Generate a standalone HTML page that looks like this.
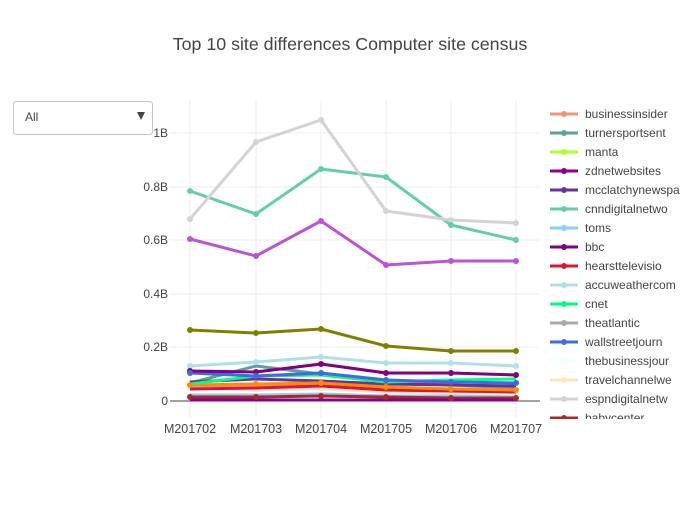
<!DOCTYPE html>
<html><head><meta charset="utf-8"><style>
body{margin:0;background:#fff;font-family:"Liberation Sans","DejaVu Sans",sans-serif}
</style></head><body>
<svg width="700" height="500" xmlns="http://www.w3.org/2000/svg" font-family="Liberation Sans, DejaVu Sans, sans-serif">
<rect width="700" height="500" fill="#fff"/>
<text x="350" y="50" text-anchor="middle" font-size="17.8" fill="#444">Top 10 site differences Computer site census</text>
<g stroke="#eee" stroke-width="1">
<line x1="190" y1="100" x2="190" y2="418"/><line x1="256" y1="100" x2="256" y2="418"/><line x1="321" y1="100" x2="321" y2="418"/><line x1="386" y1="100" x2="386" y2="418"/><line x1="451" y1="100" x2="451" y2="418"/><line x1="516" y1="100" x2="516" y2="418"/>
<line x1="170" y1="133" x2="540" y2="133"/><line x1="170" y1="187" x2="540" y2="187"/><line x1="170" y1="240" x2="540" y2="240"/><line x1="170" y1="294" x2="540" y2="294"/><line x1="170" y1="347" x2="540" y2="347"/>
</g>
<line x1="170" y1="401" x2="540" y2="401" stroke="#444" stroke-width="1"/>
<g font-size="12" fill="#444" text-anchor="end">
<text x="168" y="137">1B</text><text x="168" y="191">0.8B</text><text x="168" y="244">0.6B</text><text x="168" y="298">0.4B</text><text x="168" y="351">0.2B</text><text x="168" y="405">0</text>
</g>
<g font-size="12.5" fill="#444" text-anchor="middle">
<text x="190" y="433">M201702</text><text x="256" y="433">M201703</text><text x="321" y="433">M201704</text><text x="386" y="433">M201705</text><text x="451" y="433">M201706</text><text x="516" y="433">M201707</text>
</g>
<g fill="none" stroke-width="3" stroke-linejoin="round">
<polyline stroke="#ffe4c4" points="190,388 256,390 321,389 386,392 451,393 516,393"/>
<polyline stroke="#87cefa" points="190,395 256,395 321,394 386,396 451,396 516,397"/>
<polyline stroke="#5f9ea0" points="190,383 256,366 321,374 386,382 451,385 516,388"/>
<polyline stroke="#663399" points="190,382 256,379 321,381 386,384 451,385 516,386"/>
<polyline stroke="#e9967a" points="190,386 256,385 321,384 386,388 451,389 516,390"/>
<polyline stroke="#dc143c" points="190,389 256,388 321,386 386,390 451,391 516,392"/>
<polyline stroke="#ff8c00" points="190,385 256,384 321,383 386,387 451,389 516,390"/>
<polyline stroke="#00ff7f" points="190,384 256,376 321,375 386,382 451,380 516,379"/>
<polyline stroke="#4169e1" points="190,373 256,376 321,373 386,380 451,382 516,383"/>
<polyline stroke="#800080" points="190,371 256,372 321,364 386,373 451,373 516,375"/>
<polyline stroke="#b0e0e6" points="190,366 256,362 321,357 386,363 451,363 516,366"/>
<polyline stroke="#808000" points="190,330 256,333 321,329 386,346 451,351 516,351"/>
<polyline stroke="#ba55d3" points="190,239 256,256 321,221 386,265 451,261 516,261"/>
<polyline stroke="#66cdaa" points="190,191 256,214 321,169 386,177 451,225 516,240"/>
<polyline stroke="#d3d3d3" points="190,219 256,142 321,120 386,211 451,220 516,223"/>
<polyline stroke="#a52a2a" points="190,397 256,397 321,396 386,397 451,398 516,398"/>
<polyline stroke="#8b008b" points="190,400 256,400 321,400 386,400 451,400 516,400"/>
</g>
<g>
<g fill="#d3d3d3"><circle cx="190" cy="219" r="3"/><circle cx="256" cy="142" r="3"/><circle cx="321" cy="120" r="3"/><circle cx="386" cy="211" r="3"/><circle cx="451" cy="220" r="3"/><circle cx="516" cy="223" r="3"/></g>
<g fill="#66cdaa"><circle cx="190" cy="191" r="3"/><circle cx="256" cy="214" r="3"/><circle cx="321" cy="169" r="3"/><circle cx="386" cy="177" r="3"/><circle cx="451" cy="225" r="3"/><circle cx="516" cy="240" r="3"/></g>
<g fill="#ba55d3"><circle cx="190" cy="239" r="3"/><circle cx="256" cy="256" r="3"/><circle cx="321" cy="221" r="3"/><circle cx="386" cy="265" r="3"/><circle cx="451" cy="261" r="3"/><circle cx="516" cy="261" r="3"/></g>
<g fill="#808000"><circle cx="190" cy="330" r="3"/><circle cx="256" cy="333" r="3"/><circle cx="321" cy="329" r="3"/><circle cx="386" cy="346" r="3"/><circle cx="451" cy="351" r="3"/><circle cx="516" cy="351" r="3"/></g>
<g fill="#b0e0e6"><circle cx="190" cy="366" r="3"/><circle cx="256" cy="362" r="3"/><circle cx="321" cy="357" r="3"/><circle cx="386" cy="363" r="3"/><circle cx="451" cy="363" r="3"/><circle cx="516" cy="366" r="3"/></g>
<g fill="#800080"><circle cx="190" cy="371" r="3"/><circle cx="256" cy="372" r="3"/><circle cx="321" cy="364" r="3"/><circle cx="386" cy="373" r="3"/><circle cx="451" cy="373" r="3"/><circle cx="516" cy="375" r="3"/></g>
<g fill="#4169e1"><circle cx="190" cy="373" r="3"/><circle cx="256" cy="376" r="3"/><circle cx="321" cy="373" r="3"/><circle cx="386" cy="380" r="3"/><circle cx="451" cy="382" r="3"/><circle cx="516" cy="383" r="3"/></g>
<g fill="#ff8c00"><circle cx="190" cy="385" r="3"/><circle cx="256" cy="384" r="3"/><circle cx="321" cy="383" r="3"/><circle cx="386" cy="387" r="3"/><circle cx="451" cy="389" r="3"/><circle cx="516" cy="390" r="3"/></g>
<g fill="#a52a2a"><circle cx="190" cy="397" r="3"/><circle cx="256" cy="397" r="3"/><circle cx="321" cy="396" r="3"/><circle cx="386" cy="397" r="3"/><circle cx="451" cy="398" r="3"/><circle cx="516" cy="398" r="3"/></g>
</g>
<rect x="13.5" y="101.5" width="139" height="33" rx="3" fill="#fff" stroke="#bec8d9"/>
<text x="25" y="121" font-size="12" fill="#444">All</text>
<path d="M137 112 h8 l-4 8 z" fill="#444"/>
<g font-size="12" fill="#444" stroke-width="3">
<g transform="translate(0,114)"><line x1="550" x2="578" stroke="#e9967a"/><circle cx="564" r="3" fill="#e9967a"/><text x="585" y="4">businessinsider</text></g>
<g transform="translate(0,133)"><line x1="550" x2="578" stroke="#5f9ea0"/><circle cx="564" r="3" fill="#5f9ea0"/><text x="585" y="4">turnersportsent</text></g>
<g transform="translate(0,152)"><line x1="550" x2="578" stroke="#adff2f"/><circle cx="564" r="3" fill="#adff2f"/><text x="585" y="4">manta</text></g>
<g transform="translate(0,171)"><line x1="550" x2="578" stroke="#8b008b"/><circle cx="564" r="3" fill="#8b008b"/><text x="585" y="4">zdnetwebsites</text></g>
<g transform="translate(0,190)"><line x1="550" x2="578" stroke="#663399"/><circle cx="564" r="3" fill="#663399"/><text x="585" y="4">mcclatchynewspa</text></g>
<g transform="translate(0,209)"><line x1="550" x2="578" stroke="#66cdaa"/><circle cx="564" r="3" fill="#66cdaa"/><text x="585" y="4">cnndigitalnetwo</text></g>
<g transform="translate(0,228)"><line x1="550" x2="578" stroke="#87cefa"/><circle cx="564" r="3" fill="#87cefa"/><text x="585" y="4">toms</text></g>
<g transform="translate(0,247)"><line x1="550" x2="578" stroke="#800080"/><circle cx="564" r="3" fill="#800080"/><text x="585" y="4">bbc</text></g>
<g transform="translate(0,266)"><line x1="550" x2="578" stroke="#dc143c"/><circle cx="564" r="3" fill="#dc143c"/><text x="585" y="4">hearsttelevisio</text></g>
<g transform="translate(0,285)"><line x1="550" x2="578" stroke="#b0e0e6"/><circle cx="564" r="3" fill="#b0e0e6"/><text x="585" y="4">accuweathercom</text></g>
<g transform="translate(0,304)"><line x1="550" x2="578" stroke="#00ff7f"/><circle cx="564" r="3" fill="#00ff7f"/><text x="585" y="4">cnet</text></g>
<g transform="translate(0,323)"><line x1="550" x2="578" stroke="#a9a9a9"/><circle cx="564" r="3" fill="#a9a9a9"/><text x="585" y="4">theatlantic</text></g>
<g transform="translate(0,342)"><line x1="550" x2="578" stroke="#4169e1"/><circle cx="564" r="3" fill="#4169e1"/><text x="585" y="4">wallstreetjourn</text></g>
<g transform="translate(0,361)"><line x1="550" x2="578" stroke="#f0ffff"/><circle cx="564" r="3" fill="#f0ffff"/><text x="585" y="4">thebusinessjour</text></g>
<g transform="translate(0,380)"><line x1="550" x2="578" stroke="#ffe4c4"/><circle cx="564" r="3" fill="#ffe4c4"/><text x="585" y="4">travelchannelwe</text></g>
<g transform="translate(0,399)"><line x1="550" x2="578" stroke="#d3d3d3"/><circle cx="564" r="3" fill="#d3d3d3"/><text x="585" y="4">espndigitalnetw</text></g>
</g>
<svg x="540" y="410" width="160" height="9"><g font-size="12" fill="#444" stroke-width="3"><line x1="10" x2="38" y1="8" y2="8" stroke="#a52a2a"/><circle cx="24" cy="8" r="3" fill="#a52a2a"/><text x="45" y="12">babycenter</text></g></svg>
</svg>
</body></html>
